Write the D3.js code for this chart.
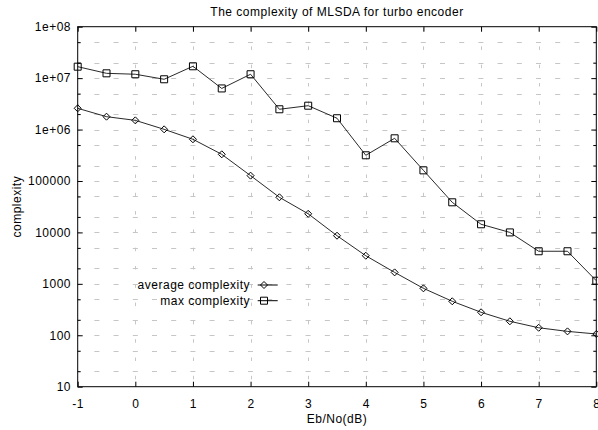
<!DOCTYPE html>
<html>
<head>
<meta charset="utf-8">
<script src="https://cdn.jsdelivr.net/npm/d3@7/dist/d3.min.js"></script>
<style>
  html, body { margin: 0; padding: 0; background: #fff; }
  svg { display: block; }
  text { font-family: "Liberation Sans", Arial, Helvetica, sans-serif; font-size: 12px; letter-spacing: 0.5px; fill: #000; }
</style>
</head>
<body>
<svg id="chart" width="598" height="430"></svg>
<script>
// Eb/No sample points (dB)
const ebno = [-1, -0.5, 0, 0.5, 1, 1.5, 2, 2.5, 3, 3.5, 4, 4.5, 5, 5.5, 6, 6.5, 7, 7.5, 8];
// Average number of decoding operations per point
const averageComplexity = [2.59e6, 1.78e6, 1.51e6, 1.01e6, 6.47e5, 3.3e5, 1.27e5, 4.82e4, 2.3e4, 8.63e3,
  3.52e3, 1.67e3, 818, 458, 280, 187, 140, 119, 106];
// Worst case number of decoding operations per point
const maxComplexity = [1.67e7, 1.24e7, 1.19e7, 9.5e6, 1.7e7, 6.3e6, 1.19e7, 2.48e6, 2.91e6, 1.66e6,
  3.16e5, 6.76e5, 1.61e5, 3.85e4, 1.44e4, 1.0e4, 4.3e3, 4.3e3, 1150];

const xTicks = [-1, 0, 1, 2, 3, 4, 5, 6, 7, 8];
const yTicks = [10, 100, 1000, 10000, 100000, 1e6, 1e7, 1e8];
const yTickLabels = ["10", "100", "1000", "10000", "100000", "1e+06", "1e+07", "1e+08"];
const yMinorTicks = [20, 50, 200, 500, 2000, 5000, 2e4, 5e4, 2e5, 5e5, 2e6, 5e6, 2e7, 5e7];
const yGridValues = yTicks.concat(yMinorTicks);

const titleText = "The complexity of MLSDA for turbo encoder";
const xLabel = "Eb/No(dB)";
const yLabel = "complexity";
const seriesNames = ["average complexity", "max complexity"];

const plotLeft = 77.7, plotRight = 596.3, plotTop = 26.7, plotBottom = 386.7;

const svg = d3.select("#chart");
const x = d3.scaleLinear().domain([-1, 8]).range([plotLeft, plotRight]);
const y = d3.scaleLog().domain([10, 1e8]).range([plotBottom, plotTop]);

// grid
const grid = svg.append("g").attr("stroke", "#c6c6c6").attr("stroke-width", 1);
grid.selectAll("line.h").data(yGridValues.filter(v => v > 10 && v < 1e8)).join("line")
  .attr("class", "h")
  .attr("x1", plotLeft).attr("x2", plotRight)
  .attr("y1", d => Math.round(y(d)) + 0.5).attr("y2", d => Math.round(y(d)) + 0.5)
  .attr("stroke-dasharray", "5,14.2").attr("stroke-dashoffset", 2.5);
grid.selectAll("line.v").data(xTicks.filter(v => v > -1 && v < 8)).join("line")
  .attr("class", "v")
  .attr("x1", d => Math.round(x(d)) + 0.5).attr("x2", d => Math.round(x(d)) + 0.5)
  .attr("y1", plotBottom).attr("y2", plotTop)
  .attr("stroke-dasharray", "3.5,14.8").attr("stroke-dashoffset", 10.9);

// axes: ticks point inward, mirrored on top and right
const fmtY = d => yTickLabels[yTicks.indexOf(d)];
const gLeft = svg.append("g").attr("transform", `translate(${plotLeft},0)`)
  .call(d3.axisLeft(y).tickValues(yTicks).tickFormat(fmtY).tickSize(-5).tickPadding(6.7));
const gLeftMinor = svg.append("g").attr("transform", `translate(${plotLeft},0)`)
  .call(d3.axisLeft(y).tickValues(yMinorTicks).tickFormat("").tickSize(-3));
const gRight = svg.append("g").attr("transform", `translate(${plotRight},0)`)
  .call(d3.axisRight(y).tickValues(yTicks).tickFormat("").tickSize(-5));
const gRightMinor = svg.append("g").attr("transform", `translate(${plotRight},0)`)
  .call(d3.axisRight(y).tickValues(yMinorTicks).tickFormat("").tickSize(-3));
const gBottom = svg.append("g").attr("transform", `translate(0,${plotBottom})`)
  .call(d3.axisBottom(x).tickValues(xTicks).tickFormat(d => String(d)).tickSize(-5).tickPadding(12.8));
const gTop = svg.append("g").attr("transform", `translate(0,${plotTop})`)
  .call(d3.axisTop(x).tickValues(xTicks).tickFormat("").tickSize(-5));

[gLeft, gLeftMinor, gRight, gRightMinor, gBottom, gTop].forEach(g => {
  g.select(".domain").remove();
  g.selectAll(".tick line").attr("stroke", "#000");
  g.selectAll(".tick text").attr("font-size", 12).attr("font-family", null).attr("fill", "#000");
});

// border
svg.append("rect")
  .attr("x", plotLeft).attr("y", plotTop)
  .attr("width", plotRight - plotLeft).attr("height", plotBottom - plotTop)
  .attr("fill", "none").attr("stroke", "#000").attr("stroke-width", 1);

// series
const line = d3.line().x((d, i) => x(ebno[i])).y(d => y(d));
const plot = svg.append("g");

const diamond = (cx, cy, r) => `M${cx},${cy - r}L${cx + r},${cy}L${cx},${cy + r}L${cx - r},${cy}Z`;
const square = (cx, cy, r) => `M${cx - r},${cy - r}h${2 * r}v${2 * r}h${-2 * r}Z`;

plot.append("path").datum(averageComplexity).attr("d", line)
  .attr("fill", "none").attr("stroke", "#111").attr("stroke-width", 0.9);
plot.append("path").datum(maxComplexity).attr("d", line)
  .attr("fill", "none").attr("stroke", "#111").attr("stroke-width", 0.9);

plot.selectAll("path.avg").data(averageComplexity).join("path").attr("class", "avg")
  .attr("d", (d, i) => diamond(x(ebno[i]), y(d), 3.5))
  .attr("fill", "none").attr("stroke", "#000").attr("stroke-width", 1);
plot.selectAll("path.max").data(maxComplexity).join("path").attr("class", "max")
  .attr("d", (d, i) => square(x(ebno[i]), y(d), 3.5))
  .attr("fill", "none").attr("stroke", "#000").attr("stroke-width", 1);

// legend
const legend = svg.append("g");
const legendRows = [
  { name: seriesNames[0], cy: 285, marker: diamond },
  { name: seriesNames[1], cy: 300.7, marker: square }
];
legendRows.forEach(r => {
  legend.append("text").attr("x", 250).attr("y", r.cy + 4.2)
    .attr("text-anchor", "end").text(r.name);
  legend.append("line").attr("x1", 257.7).attr("x2", 277.7)
    .attr("y1", r.cy).attr("y2", r.cy).attr("stroke", "#000");
  legend.append("path").attr("d", r.marker(264, r.cy, 3.5))
    .attr("fill", "none").attr("stroke", "#000");
});

// titles
svg.append("text").attr("x", (plotLeft + plotRight) / 2).attr("y", 16)
  .attr("text-anchor", "middle").text(titleText);
svg.append("text").attr("x", (plotLeft + plotRight) / 2).attr("y", 423)
  .attr("text-anchor", "middle").text(xLabel);
svg.append("text").attr("transform", `translate(21,${(plotTop + plotBottom) / 2}) rotate(-90)`)
  .attr("text-anchor", "middle").text(yLabel);
</script>
</body>
</html>
